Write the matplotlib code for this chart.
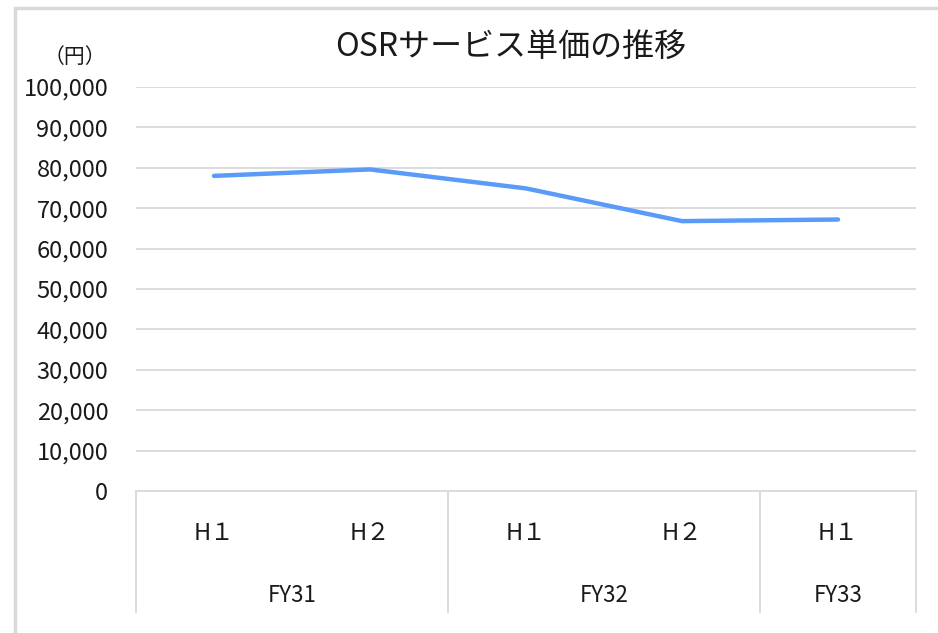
import matplotlib
matplotlib.use("Agg")
import matplotlib.pyplot as plt
from matplotlib.patches import Rectangle
from matplotlib.lines import Line2D

plt.rcParams['font.family'] = ['Noto Sans CJK JP', 'DejaVu Sans']

title = "OSRサービス単価の推移"
unit_label = "（円）"
halves = ["H１", "H２", "H１", "H２", "H１"]
years = ["FY31", "FY32", "FY33"]
year_spans = [2, 2, 1]
values = [78000, 79600, 74900, 66800, 67200]
yticks = list(range(0, 100001, 10000))

W, H = 938, 633
fig = plt.figure(figsize=(W / 100, H / 100), dpi=100)

def fx(px):
    return px / W

def fy(py):
    return 1 - py / H

left, right, top, bottom = 136, 916, 87, 491
ax = fig.add_axes([fx(left), fy(bottom), fx(right) - fx(left), fy(top) - fy(bottom)])

x = list(range(len(values)))
ax.plot(x, values, color='#5B9BF8', lw=3.2, solid_capstyle='round', solid_joinstyle='round', zorder=3)
ax.set_xlim(-0.5, len(values) - 0.5)
ax.set_ylim(0, 100000)
ax.set_yticks(yticks)
ax.set_yticklabels([f"{v:,}" for v in yticks], fontsize=17, color='#1a1a1a')
ax.tick_params(axis='y', length=0, pad=20)
ax.tick_params(axis='x', length=0, labelbottom=False)
for s in ['top', 'right', 'left']:
    ax.spines[s].set_visible(False)
ax.spines['bottom'].set_color('#D9D9D9')
ax.spines['bottom'].set_linewidth(1.3)
ax.grid(axis='y', color='#D9D9D9', lw=1.3)
ax.set_axisbelow(True)

# category labels
for i, lab in enumerate(halves):
    ax.text(i, -0.105, lab, transform=ax.get_xaxis_transform(), ha='center', va='center',
            fontsize=17, color='#1a1a1a')

# group separators and labels
start = 0
bounds = [0]
for span in year_spans:
    start += span
    bounds.append(start)
sep_bottom = fy(612)
for b in bounds:
    xf = fx(left) + (fx(right) - fx(left)) * b / len(values)
    fig.add_artist(Line2D([xf, xf], [fy(bottom), sep_bottom], color='#D9D9D9', lw=1.3))
for i, yr in enumerate(years):
    c = (bounds[i] + bounds[i + 1]) / 2 - 0.5
    ax.text(c, -0.258, yr, transform=ax.get_xaxis_transform(), ha='center', va='center',
            fontsize=16, color='#1a1a1a')

fig.text(fx(511), fy(47), title, ha='center', va='center', fontsize=23, color='#1a1a1a')
fig.text(fx(75), fy(57), unit_label, ha='center', va='center', fontsize=15, color='#1a1a1a')

# outer frame
fig.add_artist(Rectangle((fx(15), fy(640)), 1.2, fy(8) - fy(640), fill=False,
                         edgecolor='#D9D9D9', lw=2.5, transform=fig.transFigure))

fig.savefig("out.png", dpi=100, facecolor='white')
